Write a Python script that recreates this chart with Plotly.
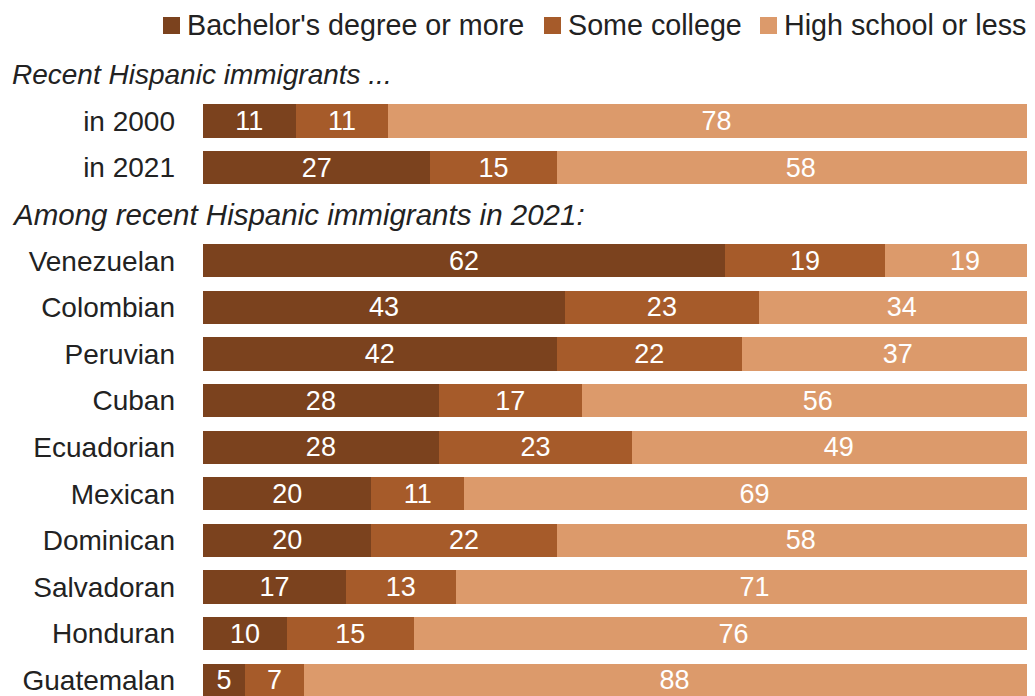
import plotly.graph_objects as go

categories = ["in 2000", "in 2021", "Venezuelan", "Colombian", "Peruvian", "Cuban",
              "Ecuadorian", "Mexican", "Dominican", "Salvadoran", "Honduran", "Guatemalan"]
bachelor = [11, 27, 62, 43, 42, 28, 28, 20, 20, 17, 10, 5]
some_college = [11, 15, 19, 23, 22, 17, 23, 11, 22, 13, 15, 7]
high_school = [78, 58, 19, 34, 37, 56, 49, 69, 58, 71, 76, 88]
series_names = ["Bachelor's degree or more", "Some college", "High school or less"]
colors = ["#7B421E", "#A65B2A", "#DC9A6B"]
headers = ["Recent Hispanic immigrants ...", "Among recent Hispanic immigrants in 2021:"]
header_sizes = [28, 29.5]

# row positions: header rows inserted before each group
positions = [i + 1 if i < 2 else i + 2 for i in range(len(categories))]
header_pos = [0, 3]

FONT = "Liberation Sans"
OFF = 8                     # page body margin
W, H = 1035 - OFF, 696 - OFF
L = 203 - OFF
PW = W - L
ROW0 = 74.4 - OFF           # y pixel (figure coords) of first header row
STEP = 46.6                 # pixels per row


def px(xpix):               # page x pixel -> paper x
    return (xpix - OFF - L) / PW


def py(ypix):               # page y pixel -> paper y
    return 1 - (ypix - OFF) / H


fig = go.Figure()
for name, vals, col in zip(series_names, [bachelor, some_college, high_school], colors):
    fig.add_trace(go.Bar(
        y=positions, x=vals, name=name, orientation="h",
        marker=dict(color=col, line=dict(width=0)),
        width=0.71,
        text=vals, textposition="inside", insidetextanchor="middle",
        textangle=0, constraintext="none",
        textfont=dict(color="white", size=27, family=FONT),
        hoverinfo="skip", showlegend=False,
    ))

for txt, p, fs in zip(headers, header_pos, header_sizes):
    fig.add_annotation(text="<i>" + txt + "</i>", x=px(10), xref="paper",
                       y=p, yref="y", xanchor="left", yanchor="middle", showarrow=False,
                       font=dict(size=fs, family=FONT, color="#222222"))

# legend (swatches + labels) drawn at the top
legend_sq_x = [163, 544, 760]
for name, col, sx in zip(series_names, colors, legend_sq_x):
    fig.add_shape(type="rect", xref="paper", yref="paper",
                  x0=px(sx), x1=px(sx + 17), y0=py(34), y1=py(17),
                  fillcolor=col, line=dict(width=0), layer="above")
    fig.add_annotation(text=name, x=px(sx + 22), xref="paper", y=py(25), yref="paper",
                       xanchor="left", yanchor="middle", showarrow=False,
                       font=dict(size=28.7, family=FONT, color="#222222"))

fig.update_layout(
    width=W, height=H, barmode="stack",
    margin=dict(l=L, r=0, t=0, b=0, autoexpand=False),
    paper_bgcolor="white", plot_bgcolor="white",
    font=dict(family=FONT, size=27, color="#222222"),
    showlegend=False,
    xaxis=dict(range=[0, PW / 8.42], visible=False, fixedrange=True),
    yaxis=dict(range=[(H - ROW0) / STEP, -ROW0 / STEP], tickvals=positions, ticktext=categories,
               showgrid=False, zeroline=False, showline=False, ticks="",
               ticklabelstandoff=27, ticklabeloverflow="allow",
               tickfont=dict(size=28, family=FONT, color="#222222")),
    bargap=0.29,
)
fig.write_html("out.html")
